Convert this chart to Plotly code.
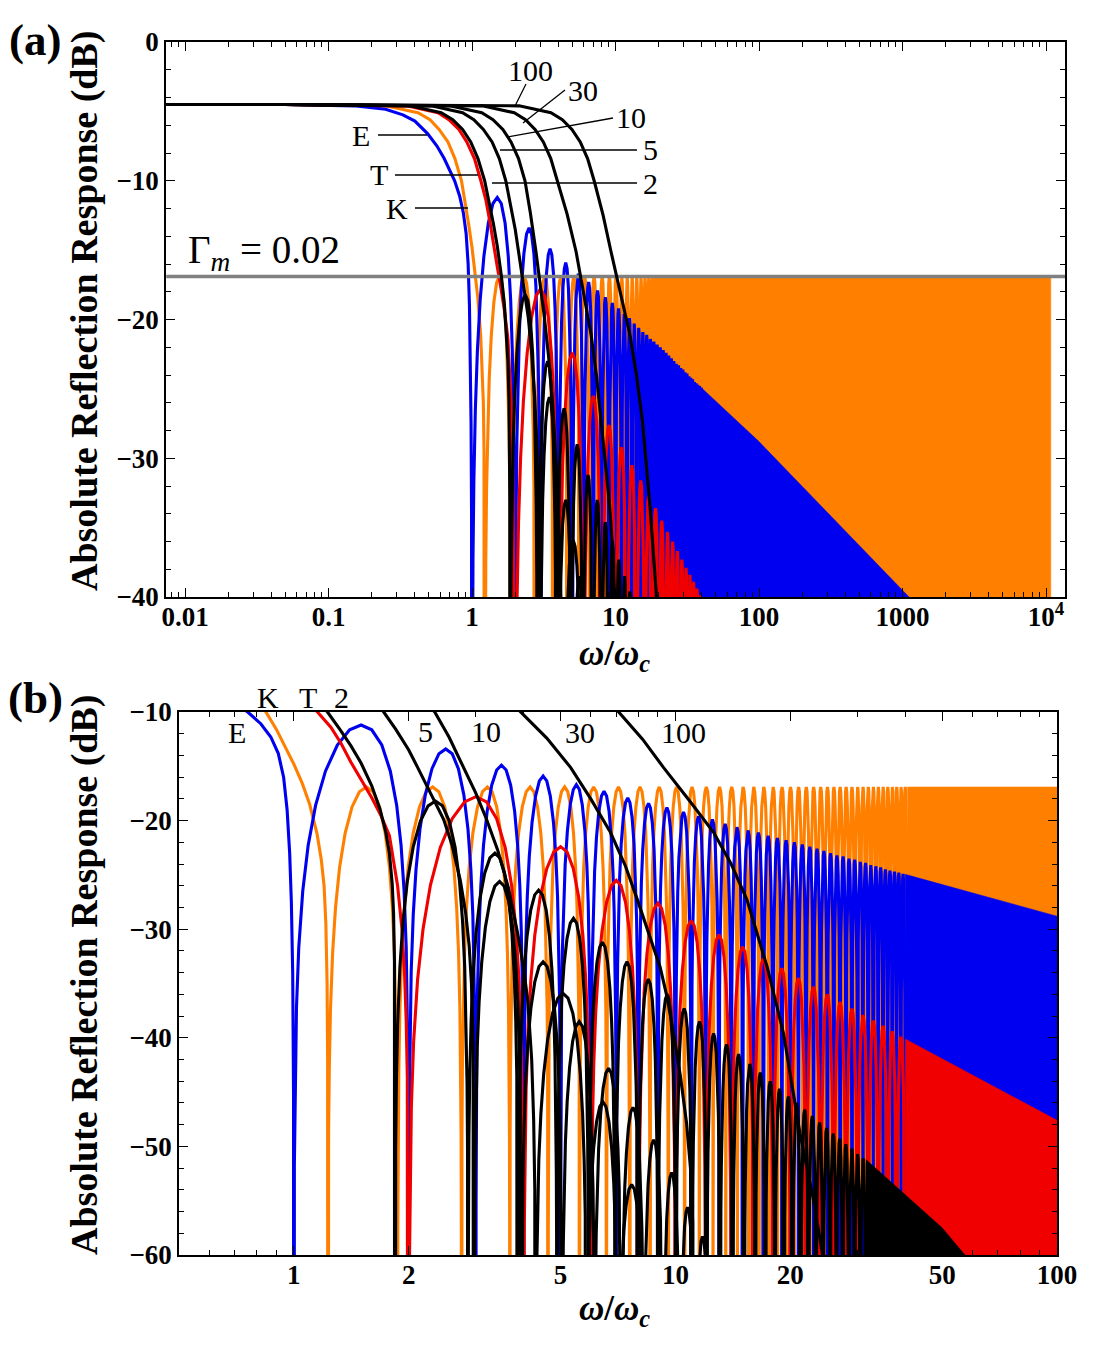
import numpy as np
import plotly.graph_objects as go

# ---------------- data (x = w/wc, y = dB) ----------------
GAMMA_M_DB = -16.9

# main lobes: flat low-frequency level down to the first null
E_MAIN_X = [0.0074, 0.05, 0.15, 0.25, 0.33, 0.4, 0.49, 0.57, 0.64, 0.7, 0.757, 0.82, 0.87,
            0.91, 0.94, 0.96, 0.975, 0.985, 0.993, 0.998]
E_MAIN_DB = [-4.5, -4.5, -4.6, -4.85, -5.25, -5.7, -6.6, -7.5, -8.4, -9.2, -10.0, -11.1, -12.3,
             -13.8, -16.0, -19.0, -23.0, -27.5, -34.0, -45.0]
K_MAIN_X = [0.0074, 0.05, 0.25, 0.42, 0.51, 0.59, 0.68, 0.76, 0.845, 0.9, 0.95, 1.0, 1.05, 1.1,
            1.15, 1.18, 1.2, 1.213, 1.222, 1.226]
K_MAIN_DB = [-4.5, -4.5, -4.6, -5.1, -5.6, -6.3, -7.2, -8.4, -10.0, -11.6, -13.2, -14.8, -16.5,
             -18.5, -21.2, -23.6, -26.0, -29.5, -35.0, -42.0]
T_MAIN_X = [0.0074, 0.05, 0.35, 0.58, 0.69, 0.81, 0.92, 1.04, 1.153, 1.25, 1.33, 1.41, 1.5, 1.6,
            1.69, 1.78, 1.87, 1.92, 1.95, 1.97, 1.983, 1.992, 1.997]
T_MAIN_DB = [-4.5, -4.5, -4.6, -5.1, -5.6, -6.3, -7.2, -8.4, -10.0, -11.4, -12.9, -14.6, -16.2,
             -17.9, -19.5, -21.4, -26.0, -30.0, -34.0, -38.5, -43.6, -50.0, -59.0]
B2_MAIN_X = [0.0074, 0.05, 0.37, 0.61, 0.735, 0.86, 0.98, 1.1, 1.225, 1.32, 1.41, 1.5, 1.6, 1.68,
             1.74, 1.78, 1.81, 1.825, 1.835]
B2_MAIN_DB = [-4.5, -4.5, -4.6, -5.1, -5.6, -6.3, -7.2, -8.4, -10.0, -11.6, -13.1, -14.7, -16.8,
              -18.9, -21.0, -23.0, -25.8, -28.5, -33.0]
B5_MAIN_X = [0.0074, 0.05, 0.52, 0.86, 1.03, 1.2, 1.38, 1.55, 1.72, 1.85, 2.0, 2.11, 2.25, 2.37,
             2.47, 2.6, 2.73, 2.82, 2.88, 2.92, 2.95]
B5_MAIN_DB = [-4.5, -4.5, -4.6, -5.1, -5.6, -6.3, -7.2, -8.4, -10.0, -11.6, -13.5, -15.1, -17.0,
              -18.6, -19.9, -22.3, -25.5, -28.5, -31.5, -35.0, -40.5]
B10_MAIN_X = [0.0074, 0.05, 0.7, 1.17, 1.4, 1.64, 1.87, 2.11, 2.34, 2.55, 2.79, 3.0, 3.2, 3.42,
              3.65, 3.86, 4.0, 4.1, 4.2, 4.25, 4.28]
B10_MAIN_DB = [-4.5, -4.5, -4.6, -5.1, -5.6, -6.3, -7.2, -8.4, -10.0, -12.3, -15.1, -17.5, -19.9,
               -22.7, -26.2, -30.4, -33.6, -36.5, -42.0, -47.5, -54.0]
B30_MAIN_X = [0.0074, 0.05, 1.18, 1.97, 2.36, 2.75, 3.14, 3.54, 3.93, 4.6, 5.31, 6.0, 6.76, 7.4,
              7.95, 8.55, 9.12, 9.5, 9.89, 10.3, 10.7, 10.95, 11.1]
B30_MAIN_DB = [-4.5, -4.5, -4.6, -5.1, -5.6, -6.3, -7.2, -8.4, -10.0, -12.4, -15.1, -18.0, -21.1,
               -24.2, -27.3, -30.5, -33.5, -36.2, -39.6, -43.5, -47.9, -52.0, -57.0]
B100_MAIN_X = [0.0074, 0.05, 2.13, 3.55, 4.26, 4.97, 5.68, 6.39, 7.1, 8.2, 9.3, 10.9, 12.6, 14.0,
               15.4, 17.4, 19.2, 21.2, 23.0, 24.3, 26.0, 28.0]
B100_MAIN_DB = [-4.5, -4.5, -4.6, -5.1, -5.6, -6.3, -7.2, -8.4, -10.0, -12.5, -15.1, -18.2, -21.1,
                -24.0, -27.3, -33.5, -39.6, -48.8, -54.9, -60.0, -66.0, -73.0]

# nulls and sidelobe peak levels
E_NULLS = [1, 2, 3, 4, 5, 6, 7, 8, 9, 10, 11, 12, 13, 14, 15, 16, 17, 18, 19, 20,
           21, 22, 23, 24, 25, 26, 27, 28, 29, 30, 31, 32, 33, 34, 35, 36, 37, 38, 39, 40]
E_PEAKS = [-11.2, -13.4, -14.9, -15.9, -16.7, -17.3, -17.9, -18.4, -18.8, -19.2,
           -19.6, -19.9, -20.3, -20.6, -20.9, -21.1, -21.4, -21.6, -21.8, -22.0,
           -22.2, -22.4, -22.6, -22.8, -23.0, -23.2, -23.3, -23.5, -23.6, -23.8,
           -23.9, -24.1, -24.2, -24.3, -24.5, -24.6, -24.7, -24.8, -24.9]
K_NULLS = [1.228, 1.87, 2.75, 3.68, 4.64, 5.61, 6.60, 7.58, 8.57, 9.57, 10.56, 11.55, 12.55,
           13.55, 14.54, 15.54, 16.54, 17.54, 18.53, 19.53, 20.53, 21.53, 22.53, 23.53, 24.53,
           25.53, 26.52, 27.52, 28.52, 29.52, 30.52, 31.52, 32.52, 33.52, 34.52, 35.52, 36.52,
           37.52, 38.52, 39.52, 40.52]
K_PEAKS = [GAMMA_M_DB] * (len(K_NULLS) - 1)
T_NULLS = [2, 4, 6, 8, 10, 12, 14, 16, 18, 20, 22, 24, 26, 28, 30, 32, 34, 36, 38, 40]
T_PEAKS = [-17.8, -22.4, -25.5, -27.6, -29.2, -30.5, -31.6, -32.7, -33.6, -34.5,
           -35.3, -36.0, -36.7, -37.3, -37.9, -38.4, -38.9, -39.4, -39.9]
B2_NULLS = [1.84, 2.86, 3.87, 4.89, 5.92, 6.95, 7.98, 9.0, 10.03, 11.05, 12.08, 13.1, 14.13,
            15.15, 16.18, 17.2, 18.23, 19.25, 20.28, 21.3, 22.33, 23.35, 24.38, 25.4, 26.43,
            27.45, 28.48, 29.5, 30.53, 31.55]
B2_PEAKS = [-18.2, -23.0, -26.4, -29.0, -31.2, -33.0, -34.6, -36.0, -37.3, -38.5, -39.6, -40.6,
            -41.5, -42.4, -43.2, -44.0, -44.7, -45.4, -46.0, -46.6, -47.2, -47.8, -48.3, -48.8,
            -49.3, -49.8, -50.2, -50.7, -51.1]
B5_NULLS = [2.97, 3.95, 5.05, 6.14, 7.22, 8.26, 9.28, 10.27, 11.25, 12.3, 13.3]
B5_PEAKS = [-25.6, -33.0, -38.5, -42.8, -46.4, -49.4, -52.4, -55.6, -58.3, -61.0]
B10_NULLS = [4.3, 5.85, 7.06, 8.3]
B10_PEAKS = [-35.9, -45.9, -53.5]
B30_NULLS = [11.25]

# envelopes of the parts where the lobes are too dense to separate
K_TAIL_X, K_TAIL_DB = [40.52, 10800], [GAMMA_M_DB, GAMMA_M_DB]
E_TAIL_X, E_TAIL_DB = [40, 100, 1110, 20000], [-24.95, -28.8, -40.0, -52.0]
T_TAIL_X, T_TAIL_DB = [40, 100, 2000], [-40.1, -47.6, -73.6]
B2_TAIL_X, B2_TAIL_DB = [31.55, 40, 50, 58, 80], [-51.2, -54.4, -57.5, -60.2, -64.5]

# shape of one lobe between two nulls (fraction of the gap, dB below the peak)
LOBE_F = [0, 0.003, 0.008, 0.016, 0.03, 0.055, 0.09, 0.14, 0.21, 0.3, 0.4, 0.5,
          0.6, 0.7, 0.79, 0.86, 0.91, 0.945, 0.97, 0.984, 0.992, 0.997, 1]
LOBE_DB = [-200, -40.5, -32.0, -26.0, -20.5, -15.3, -11.1, -7.4, -4.25, -1.84, -0.44, 0,
           -0.44, -1.84, -4.25, -7.4, -11.1, -15.3, -20.5, -26.0, -32.0, -40.5, -200]

ORANGE, BLUE, RED, BLACK, GREY = "#ff8000", "#0000f0", "#f00000", "#000000", "#808080"
W, H = 1100, 1350
OFF = 8  # the page puts the figure 8 px in from the top-left corner


def curve(main_x, main_db, nulls=(), peaks=(), sharp=1.0):
    xs, ys = list(main_x), list(main_db)
    if nulls:
        xs.append(nulls[0])
        ys.append(-200)
    for a, b, p in zip(nulls[:-1], nulls[1:], peaks):
        for f, d in zip(LOBE_F, LOBE_DB):
            xs.append(a + f * (b - a))
            ys.append(p + sharp * d)
    return xs, ys


def band(tx, tdb):
    return list(tx) + [tx[-1], tx[0]], list(tdb) + [-300, -300]


CURVES = [
    (curve(K_MAIN_X, K_MAIN_DB, K_NULLS, K_PEAKS), band(K_TAIL_X, K_TAIL_DB), ORANGE),
    (curve(E_MAIN_X, E_MAIN_DB, E_NULLS, E_PEAKS), band(E_TAIL_X, E_TAIL_DB), BLUE),
    (curve(T_MAIN_X, T_MAIN_DB, T_NULLS, T_PEAKS, sharp=1.1), band(T_TAIL_X, T_TAIL_DB), RED),
    (curve(B2_MAIN_X, B2_MAIN_DB, B2_NULLS, B2_PEAKS), band(B2_TAIL_X, B2_TAIL_DB), BLACK),
    (curve(B5_MAIN_X, B5_MAIN_DB, B5_NULLS, B5_PEAKS), None, BLACK),
    (curve(B10_MAIN_X, B10_MAIN_DB, B10_NULLS, B10_PEAKS), None, BLACK),
    (curve(B30_MAIN_X, B30_MAIN_DB, B30_NULLS), None, BLACK),
    (curve(B100_MAIN_X, B100_MAIN_DB), None, BLACK),
]

fig = go.Figure()
for xa, ya in [("x", "y"), ("x2", "y2")]:
    for i, ((cx, cy), bnd, col) in enumerate(CURVES):
        if xa == "x" and i == 3:
            fig.add_trace(go.Scatter(x=[0.0074, 13600], y=[GAMMA_M_DB, GAMMA_M_DB], mode="lines",
                                     line=dict(color=GREY, width=3.5), xaxis=xa, yaxis=ya,
                                     hoverinfo="skip"))
        fig.add_trace(go.Scatter(x=cx, y=cy, mode="lines", line=dict(color=col, width=3.1),
                                 xaxis=xa, yaxis=ya, hoverinfo="skip"))
        if bnd is not None:
            fig.add_trace(go.Scatter(x=bnd[0], y=bnd[1], mode="lines", fill="toself",
                                     fillcolor=col, line=dict(color=col, width=0.5),
                                     xaxis=xa, yaxis=ya, hoverinfo="skip"))


def px(x):
    return (x - OFF) / W


def py(y):
    return 1 - (y - OFF) / H


TICKFONT = dict(family="Liberation Serif", size=27, color="black", weight="bold")
minor_a = [m * 10.0 ** e for e in range(-3, 5) for m in range(2, 10)]
minor_b = [0.5, 0.6, 0.7, 0.8, 0.9, 3, 4, 6, 7, 8, 9, 30, 40, 60, 70, 80, 90]
common = dict(showline=True, linecolor="black", linewidth=1.5, mirror="ticks", ticks="inside",
              ticklen=9, tickwidth=1.3, tickcolor="black", showgrid=False, zeroline=False,
              tickfont=TICKFONT, automargin=False)

fig.update_layout(
    width=W, height=H, paper_bgcolor="white", plot_bgcolor="white", showlegend=False,
    margin=dict(l=0, r=0, t=0, b=0, pad=0, autoexpand=False),
    xaxis=dict(type="log", domain=[px(166), px(1065)], range=[-2.1324, 4.1324], anchor="y",
               tickmode="array", tickvals=[0.01, 0.1, 1, 10, 100, 1000, 10000],
               ticktext=["0.01", "0.1", "1", "10", "100", "1000", "10<sup>4</sup>"],
               ticklabelstandoff=-5,
               minor=dict(tickmode="array", tickvals=minor_a, ticks="inside", ticklen=5,
                          tickcolor="black"), **common),
    yaxis=dict(domain=[py(597), py(42)], range=[-40, 0], anchor="x",
               tickmode="array", tickvals=[-40, -30, -20, -10, 0],
               ticktext=["\u221240", "\u221230", "\u221220", "\u221210", "0"],
               minor=dict(dtick=2, ticks="inside", ticklen=5, tickcolor="black"), **common),
    xaxis2=dict(type="log", domain=[px(179), px(1057)], range=[np.log10(0.5), 2], anchor="y2",
                tickmode="array", tickvals=[1, 2, 5, 10, 20, 50, 100],
                ticktext=["1", "2", "5", "10", "20", "50", "100"],
                ticklabelstandoff=-5,
                minor=dict(tickmode="array", tickvals=minor_b, ticks="inside", ticklen=5,
                           tickcolor="black"), **common),
    yaxis2=dict(domain=[py(1255), py(712)], range=[-60, -10], anchor="x2",
                tickmode="array", tickvals=[-60, -50, -40, -30, -20, -10],
                ticktext=["\u221260", "\u221250", "\u221240", "\u221230", "\u221220", "\u221210"],
                minor=dict(dtick=2, ticks="inside", ticklen=5, tickcolor="black"), **common),
)

SERIF = "Liberation Serif"
ann = []
# panel letters and axis titles
for txt, x, y in [("(a)", 35, 40), ("(b)", 35, 698)]:
    ann.append(dict(text=txt, x=px(x), y=py(y), font=dict(family=SERIF, size=45, weight="bold")))
for y in [311, 975]:
    ann.append(dict(text="Absolute Reflection Response (dB)", x=px(84), y=py(y), textangle=-90,
                    font=dict(family=SERIF, size=38, weight="bold")))
for y in [655, 1310]:
    ann.append(dict(text="<i>\u03c9</i>/<i>\u03c9</i><sub><i>c</i></sub>", x=px(615), y=py(y),
                    font=dict(family=SERIF, size=35, weight="bold")))
ann.append(dict(text="\u0393<sub><i>m</i></sub> = 0.02", x=px(186), y=py(252), xanchor="left",
                font=dict(family=SERIF, size=39)))
# curve labels
labels = [("100", 530, 70), ("30", 583, 90), ("10", 631, 117), ("5", 650, 150), ("2", 650, 183),
          ("E", 361, 135), ("T", 379, 175), ("K", 397, 208),
          ("K", 268, 697), ("T", 308, 697), ("2", 341, 697), ("E", 237, 732), ("5", 425, 731),
          ("10", 486, 731), ("30", 580, 732), ("100", 683, 732)]
for txt, x, y in labels:
    ann.append(dict(text=txt, x=px(x), y=py(y), font=dict(family=SERIF, size=30)))
for a in ann:
    a.update(xref="paper", yref="paper", showarrow=False, font_color="black")
    a.setdefault("xanchor", "center")
    a.setdefault("yanchor", "middle")
fig.update_layout(annotations=ann)

leaders = [((378, 135), (427, 135)), ((395, 175), (478, 175)), ((415, 208), (468, 208)),
           ((492, 183), (637, 183)), ((500, 150), (637, 150)), ((507, 137), (613, 118)),
           ((523, 123), (565, 90)), ((515, 106), (526, 84))]
for (x0, y0), (x1, y1) in leaders:
    fig.add_shape(type="line", xref="paper", yref="paper", x0=px(x0), y0=py(y0), x1=px(x1),
                  y1=py(y1), line=dict(color="black", width=1.3))

fig.write_html("out.html")
